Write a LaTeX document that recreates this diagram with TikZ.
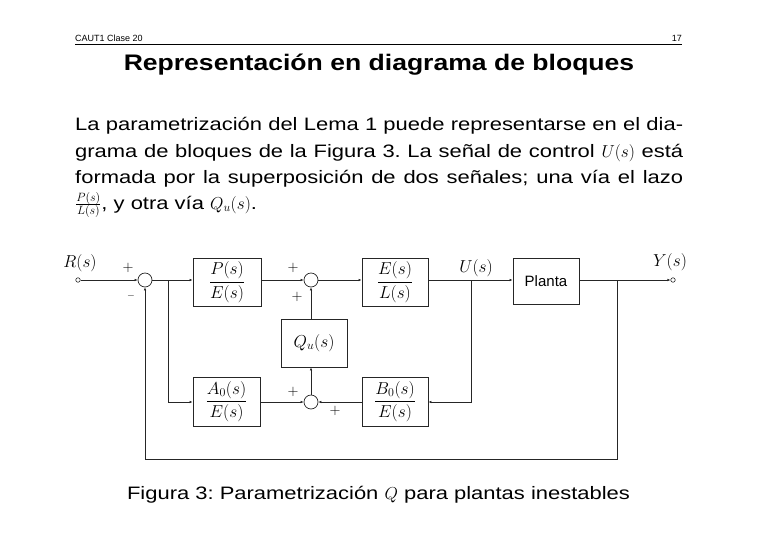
\documentclass[tikz,border=0pt]{standalone}
\usepackage{fontspec}
\setmainfont{Liberation Sans}
\newfontfamily\bodyfont{Liberation Sans}[FakeStretch=1.22]
\newfontfamily\titlefont{Liberation Sans}[FakeStretch=1.18]
\usetikzlibrary{arrows.meta}
\frenchspacing
\begin{document}
\begin{tikzpicture}[x=1pt,y=-1pt,
 blk/.style={draw=black!85,line width=0.9pt,minimum width=66pt,minimum height=48pt,inner sep=0pt,font=\fontsize{17}{20}\selectfont},
 sumj/.style={circle,draw=black!85,line width=0.7pt,minimum size=14pt,inner sep=0pt},
 port/.style={circle,draw=black!85,line width=0.6pt,minimum size=4.5pt,inner sep=0pt},
 wire/.style={line width=0.8pt,draw=black!85,-{Latex[length=3pt,width=2.6pt]}},
 lbl/.style={font=\fontsize{17}{20}\selectfont,inner sep=0pt},
 sgn/.style={font=\fontsize{15}{18}\selectfont,inner sep=0pt},
 body/.style={font=\bodyfont\fontsize{18}{21}\selectfont,inner sep=0pt,anchor=base west},
]
\useasboundingbox (0,0) rectangle (758,536);
% header
\node[font=\fontsize{9}{10}\selectfont,inner sep=0pt,anchor=base west] (hd) at (75,41) {CAUT1 Clase 20};
\node[font=\fontsize{9}{10}\selectfont,inner sep=0pt,anchor=base east] (pg) at (682,41) {17};
\draw[line width=0.8pt] (75,44.5) -- (682,44.5);
\node[font=\titlefont\bfseries\fontsize{22.5}{26}\selectfont,inner sep=0pt,anchor=base] (title) at (379,70) {Representación en diagrama de bloques};
% body text
\node[body] (l1) at (75,130) {\makebox[608pt][s]{La parametrización del Lema 1 puede representarse en el dia-}};
\node[body] (l2) at (75,157) {\makebox[608pt][s]{grama de bloques de la Figura 3. La señal de control $U(s)$ está}};
\node[body] (l3) at (75,183) {\makebox[608pt][s]{formada por la superposición de dos señales; una vía el lazo}};
\node[body] (l4) at (75,209) {$\frac{P(s)}{L(s)}$, y otra vía $Q_u(s)$.};
% caption
\node[body,anchor=base] (cap) at (378.5,499) {Figura 3: Parametrización $Q$ para plantas inestables};
% diagram
\node[port] (in) at (78,280) {};
\node[lbl] (rl) at (80,263) {$R(s)$};
\node[sumj] (s1) at (145,280) {};
\node[blk,minimum width=68pt] (pe) at (227,282) {$\displaystyle\frac{P(s)}{E(s)}$};
\node[sumj] (s2) at (311,280) {};
\node[blk] (el) at (395,282) {$\displaystyle\frac{E(s)}{L(s)}$};
\node[blk,minimum height=46pt,font=\fontsize{15}{18}\selectfont] (pl) at (546,281) {Planta};
\node[port] (out) at (673,280) {};
\node[lbl] (yl) at (670,262) {$Y(s)$};
\node[lbl] (ul) at (476,268) {$U(s)$};
\node[blk] (qu) at (314,343) {$Q_u(s)$};
\node[sumj] (s3) at (311,402) {};
\node[blk,minimum width=67pt,minimum height=49pt] (ae) at (226.5,401.5) {$\displaystyle\frac{A_0(s)}{E(s)}$};
\node[blk,minimum height=49pt] (be) at (395,401.5) {$\displaystyle\frac{B_0(s)}{E(s)}$};
% signs
\node[sgn] (p1) at (128,268) {$+$};
\node[font=\fontsize{10}{12}\selectfont,inner sep=0pt] (m1) at (131,296) {$-$};
\node[sgn] (p2) at (293,268) {$+$};
\node[sgn] (p3) at (297,297) {$+$};
\node[sgn] (p4) at (293,392) {$+$};
\node[sgn] (p5) at (335,411) {$+$};
% branch points
\coordinate (b1) at (168,280);
\coordinate (bu) at (471,280);
\coordinate (by) at (617,280);
\coordinate (fb) at (617,459);
% wires
\draw[wire] (in) -- (s1);
\draw[wire] (s1) -- (pe.west |- s1);
\draw[wire] (pe.east |- s2) -- (s2);
\draw[wire] (s2) -- (el.west |- s2);
\draw[wire] (el.east |- s2) -- (pl.west |- s2);
\draw[wire] (pl.east |- s2) -- (out);
\draw[wire] (b1) |- (ae.west |- s3);
\draw[wire] (ae.east |- s3) -- (s3);
\draw[wire] (be.west |- s3) -- (s3);
\draw[wire] (bu) |- (be.east |- s3);
\draw[wire] (s3) -- (s3 |- qu.south);
\draw[wire] (s3 |- qu.north) -- (s2);
\draw[wire] (by) -- (fb) -| (s1);
\end{tikzpicture}
\end{document}
